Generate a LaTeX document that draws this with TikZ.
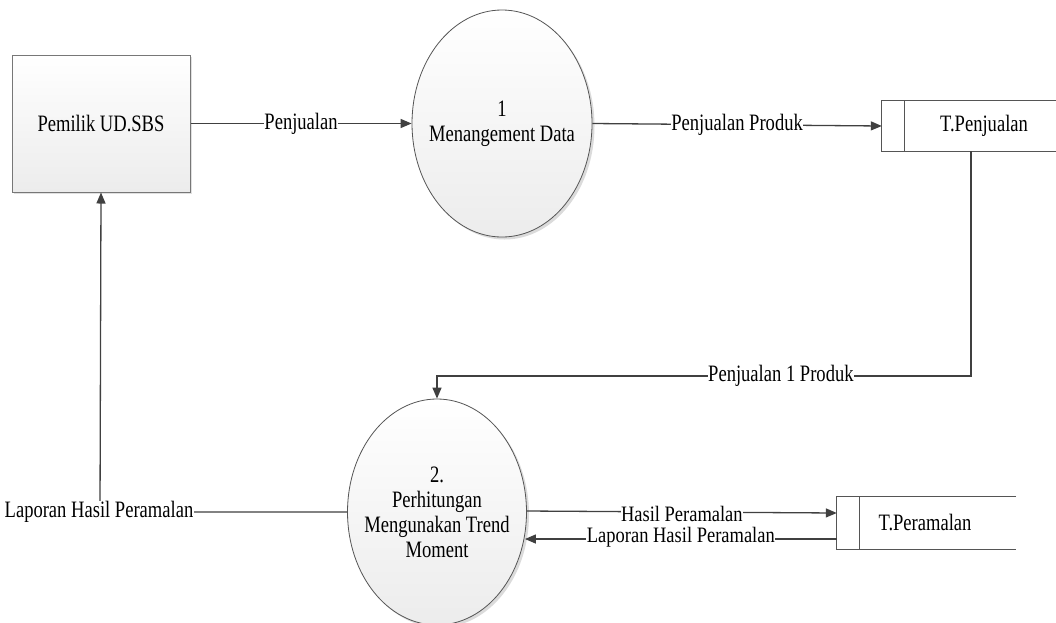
\documentclass[tikz,border=0pt]{standalone}
\usepackage{fontspec}
\setmainfont{Liberation Serif}[FakeStretch=0.79]
\newfontfamily\lblfont{Liberation Serif}[FakeStretch=0.84]
\usetikzlibrary{arrows.meta,shapes.geometric,shadows,calc}
\definecolor{linec}{HTML}{404040}
\definecolor{edgec}{HTML}{555555}
\definecolor{fillc}{HTML}{ECECEC}
\tikzset{
  txt/.style={font=\fontsize{23.5}{25}\selectfont},
  smalltxt/.style={font=\lblfont\fontsize{22}{24}\selectfont},
  flow/.style={draw=linec, line width=1.3pt, -{Triangle[length=11pt,width=9pt]}},
  plainline/.style={draw=linec, line width=1.3pt},
  lbl/.style={txt, fill=white, inner xsep=0.5pt, inner ysep=0pt},
  proc/.style={ellipse, draw=edgec, line width=0.8pt, top color=white, bottom color=fillc,
    align=center, inner ysep=0pt, inner xsep=-40pt, txt,
    drop shadow={shadow xshift=2.5pt, shadow yshift=-2.5pt, fill=black!14, opacity=1}},
  ent/.style={rectangle, draw=edgec!80, line width=1pt, top color=white, bottom color=fillc,
    align=center, txt,
    drop shadow={shadow xshift=2pt, shadow yshift=-2pt, fill=black!12, opacity=1}},
  storebox/.style={rectangle, inner sep=0pt},
  storeline/.style={draw=edgec, line width=0.9pt},
}
\begin{document}
\begin{tikzpicture}[x=1pt,y=-1pt]
\useasboundingbox (0,0) rectangle (1056,622);
\fill[white] (0,0) rectangle (1056,622);

% entity
\node[ent, minimum width=178pt, minimum height=137pt] (pem) at (101,123.5) {Pemilik UD.SBS};

% processes
\node[proc, minimum width=180pt, minimum height=227pt] (p1) at (502,123.5) {1\\Menangement Data};
\node[proc, minimum width=179pt, minimum height=226pt] (p2) at (437,512) {2.\\Perhitungan\\Mengunakan Trend\\Moment};

% data stores
\node[storebox, minimum width=174pt, minimum height=50pt] (tpj) at (969,126) {};
\draw[storeline] (tpj.north east) -- (tpj.north west) -- (tpj.south west) -- (tpj.south east);
\draw[storeline] ($(tpj.north west)+(23,0)$) -- ($(tpj.south west)+(23,0)$);
\node[txt] (tpjt) at (984,126) {T.Penjualan};

\node[storebox, minimum width=179pt, minimum height=52pt] (tpr) at (926.5,523) {};
\draw[storeline] (tpr.north east) -- (tpr.north west) -- (tpr.south west) -- (tpr.south east);
\draw[storeline] ($(tpr.north west)+(23,0)$) -- ($(tpr.south west)+(23,0)$);
\node[txt] (tprt) at (925,523) {T.Peramalan};

% coordinates
\coordinate (c1) at (971,151);
\coordinate (c2) at (971,376);
\coordinate (c3) at (437,376);
\coordinate (c4) at (100,512);
\coordinate (h0) at ($(p2.east)+(0,-1)$);
\coordinate (h1) at ($(tpr.west)+(0,-10)$);
\coordinate (h2) at ($(tpr.west)+(0,16)$);

% flows
\draw[flow] (pem.east) -- node[lbl] (l1) {Penjualan} (p1.west);
\draw[flow] (p1.east) -- node[lbl] (l2) {Penjualan Produk} (tpj.west);
\draw[flow] (c1) -- (c2) -- node[lbl, pos=0.356] (l3) {Penjualan 1 Produk} (c3) -- (p2.north);
\draw[flow] (p2.west) -- (c4) -- (pem.south);
\node[lbl] (l4) at (99,512) {Laporan Hasil Peramalan};
\draw[flow] (h0) -- node[lbl, smalltxt, text depth=0pt, yshift=-2pt] (l5) {Hasil Peramalan} (h1);
\draw[flow] (h2) -- node[lbl, smalltxt, text height=13pt, yshift=1pt] (l6) {Laporan Hasil Peramalan} ($(h2 -| p2.east)+(-2,0)$);
\end{tikzpicture}
\end{document}
